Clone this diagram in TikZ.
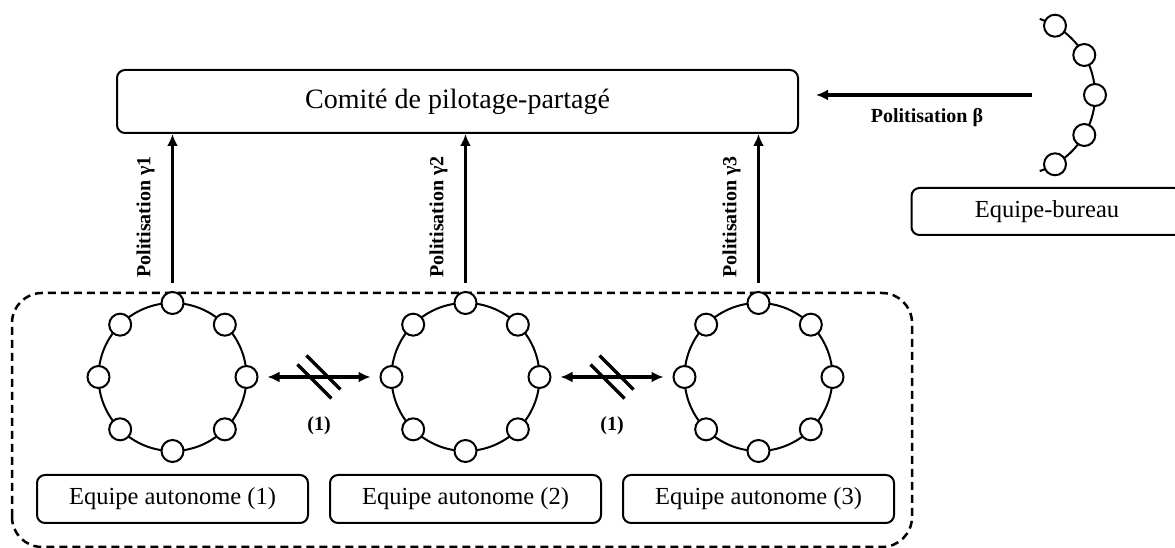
\documentclass[tikz,border=0pt]{standalone}
\usepackage{fontspec}
\setmainfont{Liberation Serif}
\usetikzlibrary{positioning,arrows.meta,calc}

\begin{document}
\begin{tikzpicture}[x=1pt,y=1pt,
    box/.style={draw,line width=2pt,rounded corners=8pt,minimum width=271pt,minimum height=48pt,font=\fontsize{24.5}{28}\selectfont},
    member/.style={circle,draw,fill=white,line width=2pt,minimum size=22pt,inner sep=0pt},
    link/.style={line width=3.5pt,-{Latex[length=12pt,width=11pt]}},
    twoway/.style={line width=3.2pt,{Latex[length=12pt,width=11pt]}-{Latex[length=12pt,width=11pt]},shorten <=9pt,shorten >=9pt},
    pol/.style={font=\bfseries\fontsize{20}{22}\selectfont}]
  \useasboundingbox (0,0) rectangle (1175,548);
  \clip (0,0) rectangle (1175,548);
  % equipes autonomes
  \draw[line width=2.5pt,dash pattern=on 8pt off 5pt,rounded corners=30pt] (12,1) rectangle (912,255);
  \node[box] (e1) at (172.5,49) {Equipe autonome (1)};
  \node[box,right=20pt of e1] (e2) {Equipe autonome (2)};
  \node[box,right=20pt of e2] (e3) {Equipe autonome (3)};
  \foreach \i in {1,2,3} {
    \coordinate[above=97pt of e\i.north] (c\i);
    \draw[line width=2pt] (c\i) circle (74pt);
    \foreach \k in {0,...,7}
      \node[member] (r\i-\k) at ($(c\i)+(\k*45:74pt)$) {};
  }
  % comite et bureau
  \node[box,minimum width=681pt,minimum height=63pt,font=\fontsize{28}{32}\selectfont] (comite) at (457.5,446.5) {Comité de pilotage-partagé};
  \node[box,minimum height=47pt] (bureau) at (1047,336.5) {Equipe-bureau};
  \coordinate (b) at (1015,453);
  \draw[line width=2pt] ($(b)+(-72:80pt)$) arc[start angle=-72,end angle=72,radius=80pt];
  \foreach \k in {0,...,4}
    \node[member] (m\k) at ($(b)+(-60+\k*30:80pt)$) {};
  % politisation
  \coordinate (bs) at (1032,453);
  \draw[link,shorten >=17pt] (bs) -- (bs -| comite.east);
  \node[pol] at (927,430) {Politisation β};
  \foreach \i in {1,2,3} {
    \draw[link,shorten <=8pt] (r\i-2) -- (r\i-2 |- comite.south);
    \node[pol,rotate=90] at ($(r\i-2)+(-27,86)$) {Politisation γ\i};
  }
  % liens coupes
  \draw[twoway] (r1-0) -- coordinate (x1) (r2-4);
  \draw[twoway] (r2-0) -- coordinate (x2) (r3-4);
  \foreach \j in {1,2} {
    \draw[line width=3.5pt] ($(x\j)+(-21.5,12.5)$) -- ++(34,-34);
    \draw[line width=3.5pt] ($(x\j)+(-12.5,21.5)$) -- ++(34,-34);
    \node[pol] at ($(x\j)+(0,-49)$) {(1)};
  }
\end{tikzpicture}
\end{document}
